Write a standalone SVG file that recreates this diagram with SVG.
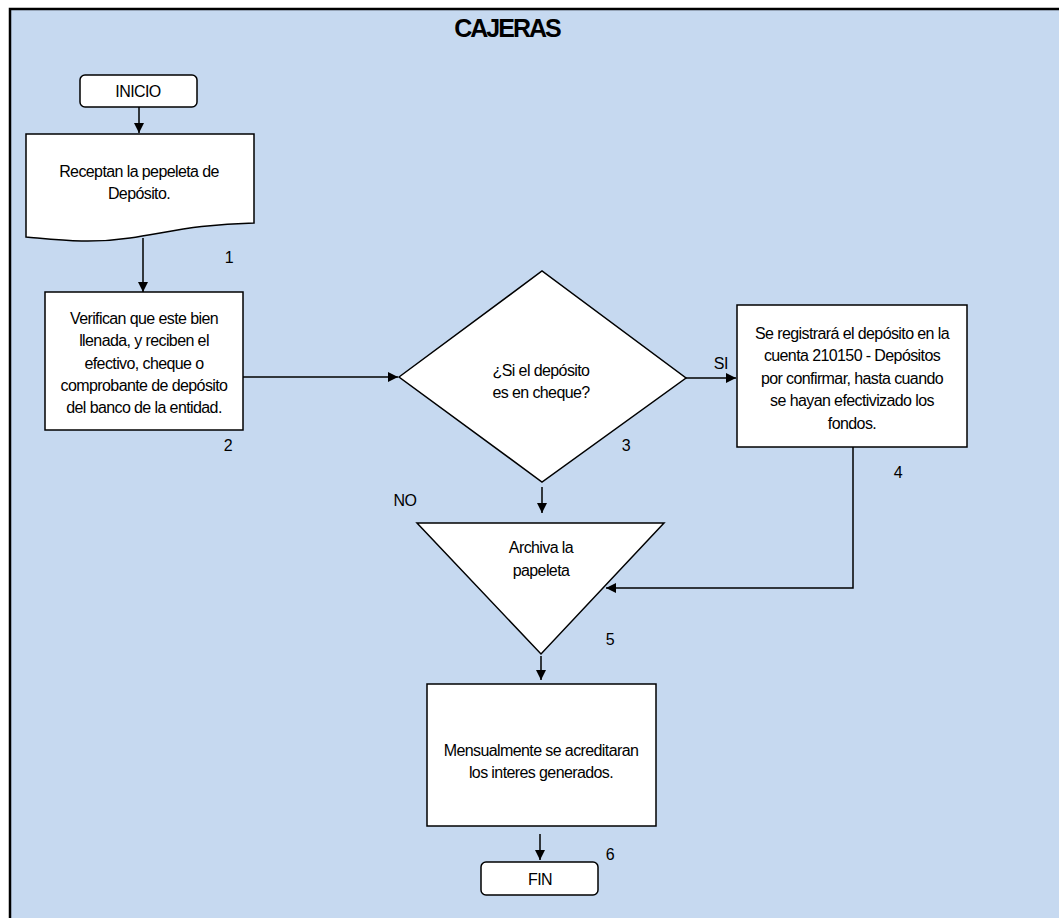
<svg xmlns="http://www.w3.org/2000/svg" width="1059" height="918" viewBox="0 0 1059 918">
<defs>
<marker id="arr" viewBox="0 0 10 10" refX="10" refY="5" markerWidth="10" markerHeight="10" markerUnits="userSpaceOnUse" orient="auto">
<path d="M0,0 L10,5 L0,10 Z" fill="#000"/>
</marker>
</defs>
<style>
.shape{fill:#fff;stroke:#000;stroke-width:1.5}
.t{font-family:"Liberation Sans",Arial,sans-serif;font-size:16px;fill:#000;text-anchor:middle;letter-spacing:-0.6px}
.n{font-family:"Liberation Sans",Arial,sans-serif;font-size:16px;fill:#000;text-anchor:middle;letter-spacing:-0.4px}
.c{fill:none;stroke:#000;stroke-width:1.5}
</style>
<rect x="10" y="9" width="1060" height="920" fill="#C6D9F0" stroke="#000" stroke-width="2.5"/>
<text x="507" y="37" font-family="'Liberation Sans',Arial,sans-serif" font-size="25" font-weight="bold" text-anchor="middle" letter-spacing="-2">CAJERAS</text>

<g id="connectors">
<line class="c" x1="139" y1="107" x2="139" y2="133" marker-end="url(#arr)"/>
<line class="c" x1="143" y1="238" x2="143" y2="292" marker-end="url(#arr)"/>
<line class="c" x1="243" y1="377" x2="398" y2="377" marker-end="url(#arr)"/>
<line class="c" x1="686" y1="378" x2="736" y2="378" marker-end="url(#arr)"/>
<polyline class="c" points="853,447 853,588 606,588" marker-end="url(#arr)"/>
<line class="c" x1="542" y1="487" x2="542" y2="513" marker-end="url(#arr)"/>
<line class="c" x1="541" y1="656" x2="541" y2="680" marker-end="url(#arr)"/>
<line class="c" x1="540" y1="834" x2="540" y2="860" marker-end="url(#arr)"/>
<text class="n" x="721" y="369" letter-spacing="-1">SI</text>
<text class="n" x="405" y="506" letter-spacing="-1">NO</text>
</g>

<g id="inicio">
<rect class="shape" x="80" y="75" width="117" height="32" rx="5"/>
<text class="t" x="138" y="97" letter-spacing="-2">INICIO</text>
</g>

<g id="n1">
<path class="shape" d="M26,134 H254 V223 C200,224 170,232 130,238 C90,244 60,240 26,237 Z"/>
<text class="t" x="139" y="177">Receptan la pepeleta de</text>
<text class="t" x="139" y="199">Depósito.</text>
<text class="n" x="229" y="263">1</text>
</g>

<g id="n2">
<rect class="shape" x="45" y="292" width="198" height="138"/>
<text class="t" x="144" y="324">Verifican que este bien</text>
<text class="t" x="144" y="346">llenada, y reciben el</text>
<text class="t" x="144" y="369">efectivo, cheque o</text>
<text class="t" x="144" y="391">comprobante de depósito</text>
<text class="t" x="144" y="413">del banco de la entidad.</text>
<text class="n" x="228" y="451">2</text>
</g>

<g id="n3">
<polygon class="shape" points="399,377 542,271 686,378 542,482"/>
<text class="t" x="541" y="376">¿Si el depósito</text>
<text class="t" x="541" y="398">es en cheque?</text>
<text class="n" x="626" y="451">3</text>
</g>

<g id="n4">
<rect class="shape" x="737" y="305" width="230" height="142"/>
<text class="t" x="852" y="339">Se registrará el depósito en la</text>
<text class="t" x="852" y="361">cuenta 210150 - Depósitos</text>
<text class="t" x="852" y="384">por confirmar, hasta cuando</text>
<text class="t" x="852" y="406">se hayan efectivizado los</text>
<text class="t" x="852" y="429">fondos.</text>
<text class="n" x="898" y="478">4</text>
</g>

<g id="n5">
<polygon class="shape" points="417,523 664,523 541,654"/>
<text class="t" x="541" y="553">Archiva la</text>
<text class="t" x="541" y="576">papeleta</text>
<text class="n" x="610" y="645">5</text>
</g>

<g id="n6">
<rect class="shape" x="427" y="684" width="229" height="142"/>
<text class="t" x="541" y="756">Mensualmente se acreditaran</text>
<text class="t" x="541" y="778">los interes generados.</text>
<text class="n" x="610" y="860">6</text>
</g>

<g id="fin">
<rect class="shape" x="481" y="862" width="117" height="33" rx="5"/>
<text class="t" x="540" y="885" letter-spacing="-0.3">FIN</text>
</g>
</svg>
